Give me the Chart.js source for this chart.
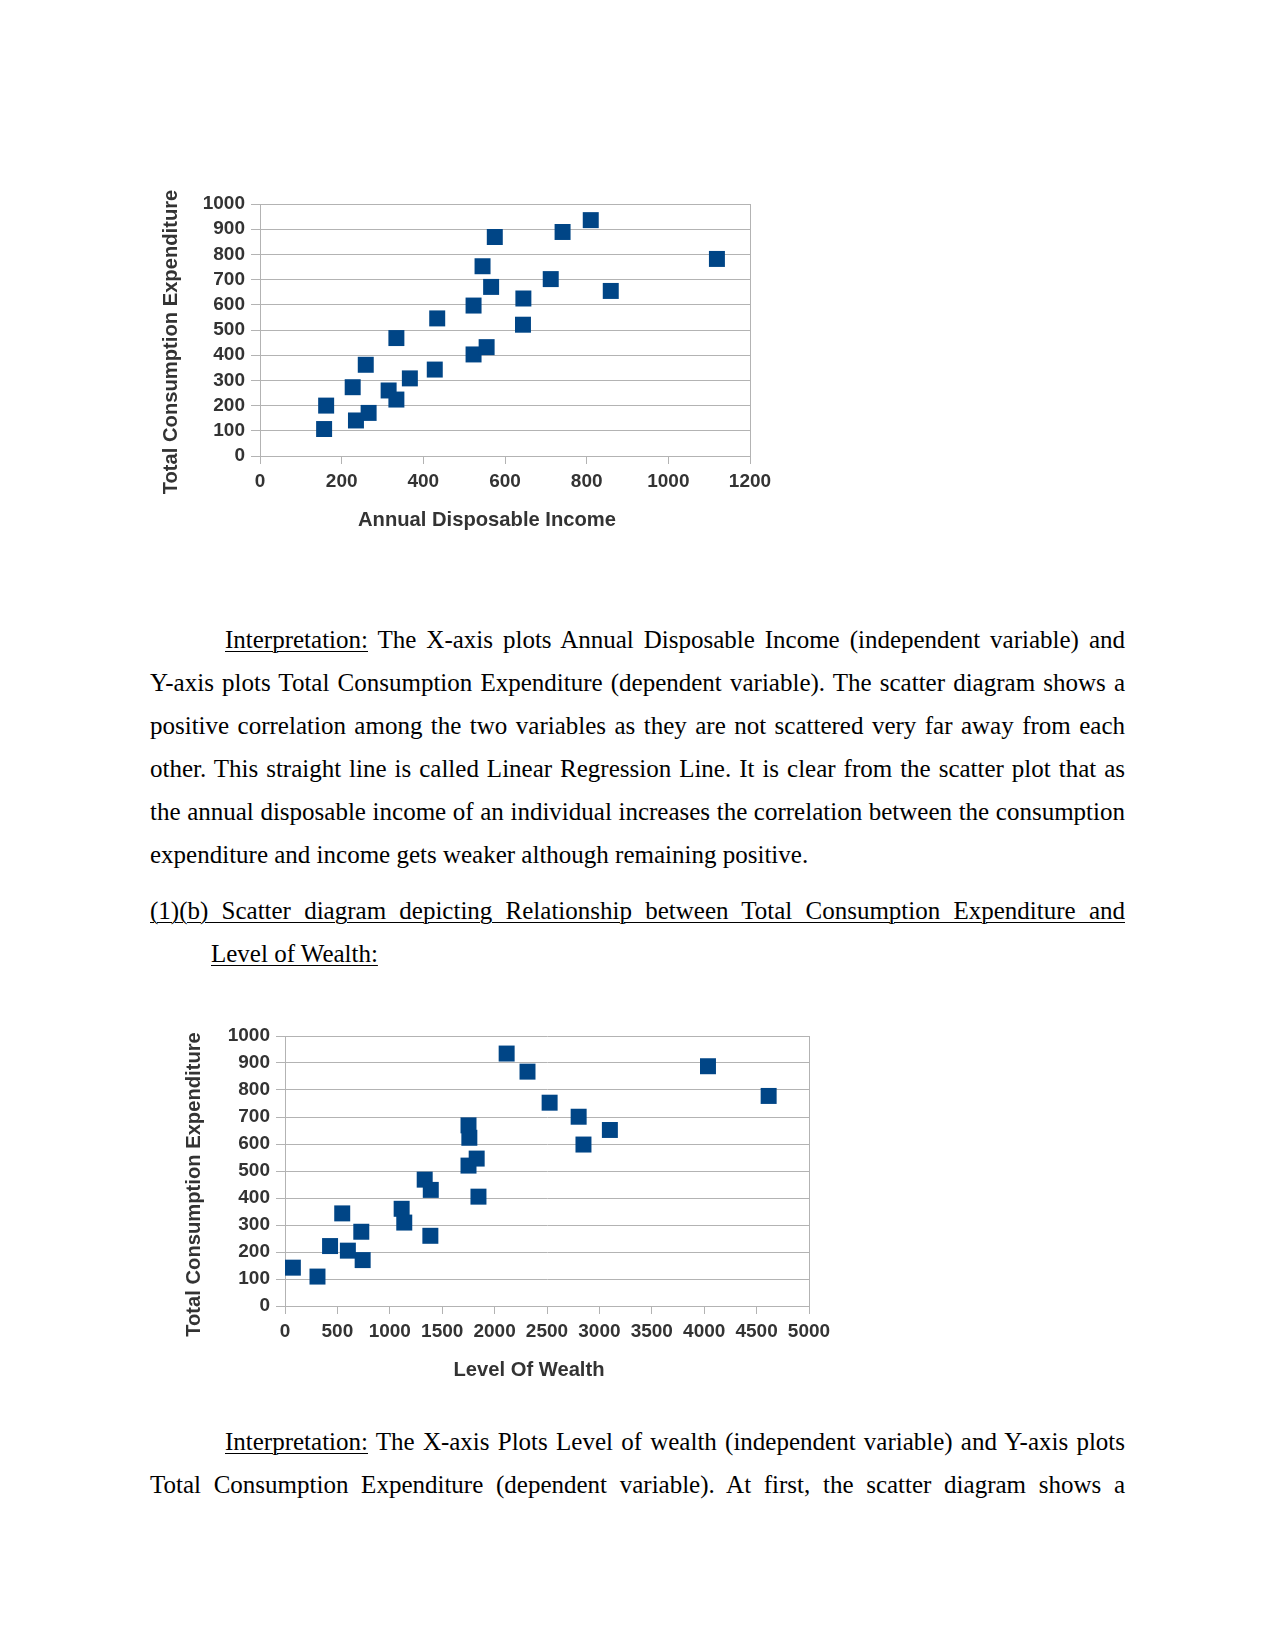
<!DOCTYPE html>
<html>
<head>
<meta charset="utf-8">
<script src="https://cdn.jsdelivr.net/npm/chart.js@4.4.1/dist/chart.umd.min.js"></script>
<style>
  html, body { margin: 0; padding: 0; background: #ffffff; }
  body { width: 1275px; height: 1650px; position: relative; overflow: hidden; }
  .cv { position: absolute; }
  .ln { position: absolute; left: 150px; width: 975px; height: 43px; line-height: 43px;
        font-family: "Liberation Serif", "Times New Roman", serif; font-size: 25px; color: #000;
        text-align: justify; text-align-last: justify; }
  .last { text-align-last: left; }
  u { text-decoration-thickness: 1px; text-underline-offset: 3px; }
</style>
</head>
<body>
<canvas id="c1" class="cv" width="630" height="355" style="left:150px;top:180px;width:630px;height:355px;"></canvas>

<div class="ln" style="top:618px;padding-left:75px;width:900px;"><u>Interpretation:</u> The X-axis plots Annual Disposable Income (independent variable) and</div>
<div class="ln" style="top:661px;">Y-axis plots Total Consumption Expenditure (dependent variable). The scatter diagram shows a</div>
<div class="ln" style="top:704px;">positive correlation among the two variables as they are not scattered very far away from each</div>
<div class="ln" style="top:747px;">other. This straight line is called Linear Regression Line. It is clear from the scatter plot that as</div>
<div class="ln" style="top:790px;">the annual disposable income of an individual increases the correlation between the consumption</div>
<div class="ln last" style="top:833px;">expenditure and income gets weaker although remaining positive.</div>

<div class="ln" style="top:889px;"><u>(1)(b) Scatter diagram depicting Relationship between Total Consumption Expenditure and</u></div>
<div class="ln last" style="top:932px;left:211px;width:914px;"><u>Level of Wealth:</u></div>

<canvas id="c2" class="cv" width="666" height="373" style="left:173px;top:1012px;width:666px;height:373px;"></canvas>

<div class="ln" style="top:1420px;padding-left:75px;width:900px;"><u>Interpretation:</u> The X-axis Plots Level of wealth (independent variable) and Y-axis plots</div>
<div class="ln" style="top:1463px;">Total Consumption Expenditure (dependent variable). At first, the scatter diagram shows a</div>

<script>
// ---- Chart 1: Annual Disposable Income vs Total Consumption Expenditure ----
const incomeX = [157, 162, 235, 227, 266, 259, 315, 334, 334, 367, 428, 434, 523, 523, 555, 545, 566, 575, 645, 644, 712, 741, 810, 859, 1119];
const consumption1 = [107, 200, 141, 273, 171, 362, 260, 224, 468, 308, 343, 546, 403, 597, 432, 753, 671, 869, 625, 521, 702, 889, 936, 655, 782];
const xTitle1 = "Annual Disposable Income";
const xMax1 = 1200, xStep1 = 200;

// ---- Chart 2: Level of Wealth vs Total Consumption Expenditure ----
const wealthX = [75, 310, 430, 546, 600, 728, 741, 1113, 1138, 1333, 1391, 1387, 1751, 1759, 1829, 1751, 1846, 2115, 2314, 2525, 2802, 2848, 3100, 4036, 4615];
const consumption2 = [142, 109, 222, 343, 205, 275, 170, 360, 309, 468, 430, 260, 669, 623, 546, 520, 405, 935, 868, 753, 701, 598, 652, 888, 778];
const xTitle2 = "Level Of Wealth";
const xMax2 = 5000, xStep2 = 500;

const yTitle = "Total Consumption Expenditure";
const yMax = 1000, yStep = 100;

const GRID = '#b3b3b3';
const TXT = '#333333';
const MARK = '#004586';

// Draws the axis titles (text from the arrays above) positioned relative to the chart area
const axisTitles = {
  id: 'axisTitles',
  afterDraw(chart, args, o) {
    const ctx = chart.ctx, a = chart.chartArea;
    ctx.save();
    ctx.fillStyle = TXT;
    ctx.font = 'bold 20.2px "Liberation Sans", Arial, sans-serif';
    ctx.textAlign = 'center';
    ctx.textBaseline = 'middle';
    ctx.fillText(o.xText, (a.left + a.right) / 2 + o.xShift, a.bottom + o.xDrop);
    ctx.translate(a.left - o.yGap, (a.top + a.bottom) / 2 + o.yShift);
    ctx.rotate(-Math.PI / 2);
    ctx.fillText(o.yText, 0, 0);
    ctx.restore();
  }
};

function makeChart(id, xs, ys, xTitle, xMax, xStep, yWidth, yGap, yShift) {
  const pts = xs.map((x, i) => ({ x: x, y: ys[i] }));
  return new Chart(document.getElementById(id), {
    type: 'scatter',
    data: { datasets: [{ data: pts, pointStyle: 'rect', pointRadius: 11.3, pointHoverRadius: 11.3,
      backgroundColor: MARK, borderColor: MARK, borderWidth: 0 }] },
    plugins: [axisTitles],
    options: {
      responsive: false, animation: false, devicePixelRatio: 1,
      layout: { padding: { top: 24, right: 30, bottom: 0, left: 0 } },
      plugins: {
        legend: { display: false }, tooltip: { enabled: false },
        axisTitles: { xText: xTitle, yText: yTitle, xShift: -18, xDrop: 64, yGap: yGap, yShift: yShift }
      },
      scales: {
        x: {
          type: 'linear', min: 0, max: xMax,
          afterFit: (s) => { s.height = 79; },
          ticks: { stepSize: xStep, autoSkip: false, maxRotation: 0, minRotation: 0, padding: 6,
                   callback: (v) => String(v),
                   color: TXT, font: { family: 'Liberation Sans', size: 19, weight: 'bold' } },
          grid: { drawOnChartArea: true, drawTicks: true, tickLength: 8, tickColor: GRID, lineWidth: 1,
                  color: (c) => (c.tick && c.tick.value === xMax) ? GRID : 'rgba(0,0,0,0)' },
          border: { display: true, color: GRID, width: 1 },
          title: { display: false }
        },
        y: {
          type: 'linear', min: 0, max: yMax,
          afterFit: (s) => { s.width = yWidth; },
          ticks: { stepSize: yStep, autoSkip: false, padding: 6, color: TXT,
                   callback: (v) => String(v),
                   font: { family: 'Liberation Sans', size: 19, weight: 'bold' } },
          grid: { drawOnChartArea: true, drawTicks: true, tickLength: 9, color: GRID, tickColor: GRID, lineWidth: 1 },
          border: { display: true, color: GRID, width: 1 },
          title: { display: false }
        }
      }
    }
  });
}

makeChart('c1', incomeX, consumption1, xTitle1, xMax1, xStep1, 110, 89, 12);
makeChart('c2', wealthX, consumption2, xTitle2, xMax2, xStep2, 112, 91, 13.5);
</script>
</body>
</html>
